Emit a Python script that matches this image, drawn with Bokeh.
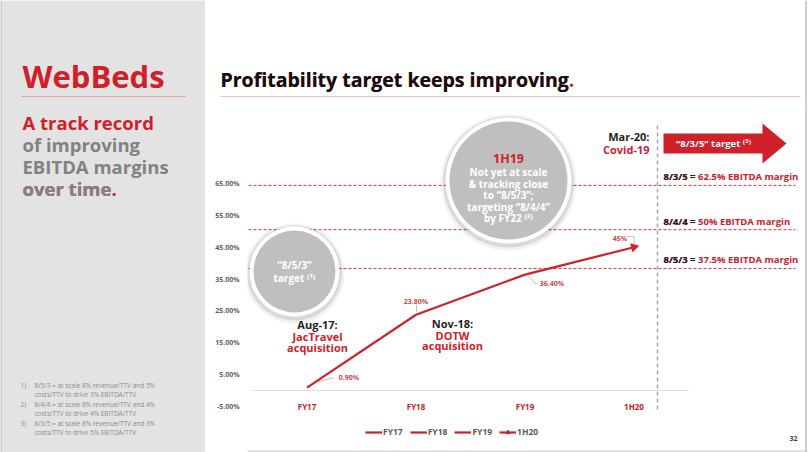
import math
from bokeh.plotting import figure
from bokeh.models import Range1d, FixedTicker, PrintfTickFormatter, Legend, LegendItem
from bokeh.layouts import row, column
from bokeh.embed import file_html
from bokeh.resources import INLINE
from bokeh.core.properties import value

# ---------------- data ----------------
categories = ["FY17", "FY18", "FY19", "1H20"]
ebitda_margin = [0.90, 23.80, 36.40, 45.0]
margin_labels = ["0.90%", "23.80%", "36.40%", "45%"]
y_ticks = [-5, 5, 15, 25, 35, 45, 55, 65]
target_levels = [64.4, 50.5, 38.3]
target_codes = ["8/3/5 =", "8/4/4 =", "8/5/3 ="]
target_texts = ["8/3/5 = 62.5% EBITDA margin", "8/4/4 = 50% EBITDA margin", "8/5/3 = 37.5% EBITDA margin"]
footnote_nums = ["1)", "2)", "3)"]
footnote_lines = [
    ["8/5/3 = at scale 8% revenue/TTV and 5%", "costs/TTV to drive 3% EBITDA/TTV"],
    ["8/4/4 = at scale 8% revenue/TTV and 4%", "costs/TTV to drive 4% EBITDA/TTV"],
    ["8/3/5 = at scale 8% revenue/TTV and 3%", "costs/TTV to drive 5% EBITDA/TTV"],
]

# ---------------- style ----------------
RED = "#d0202a"
LABEL_RED = "#d64545"
GREY_TXT = "#828282"
DARK = "#1e1e1e"
PANEL = "#e3e3e3"
FONT = value("Open Sans")

W_LEFT, W_RIGHT, H_TOTAL, H_TITLE = 205, 605, 452, 105
H_CHART = H_TOTAL - H_TITLE

# page pixel -> chart data helpers (for decorations only)
PPU = 223 / 70.0
def cy(py):
    return -5 + (406 - py) / PPU
def cx(px):
    return (px - 306.5) / 109.0


def base_fig(w, h, xr, yr, bg, **kw):
    f = figure(width=w, height=h, x_range=xr, y_range=yr, toolbar_location=None,
               output_backend="svg", min_border=0, background_fill_color=bg,
               border_fill_color=bg, outline_line_color=None, **kw)
    f.grid.visible = False
    f.frame_align = False
    return f


def txt(f, x, y, t, size, color, style="bold", align="left", baseline="middle", **kw):
    return f.text(x=x, y=y, text=t, text_font=FONT, text_font_size=size, text_font_style=style,
                  text_color=color, text_align=align, text_baseline=baseline, **kw)

# ---------------- left panel ----------------
left = base_fig(W_LEFT, H_TOTAL, Range1d(0, 205), Range1d(452, 0), PANEL,
                x_axis_location=None, y_axis_location=None)
left.segment(x0=[0.5], y0=[0], x1=[0.5], y1=[452], line_color="#b5b5b5", line_width=1)
txt(left, [22], [75], ["WebBeds"], "31px", RED)
left.segment(x0=[21], y0=[96], x1=[185], y1=[96], line_color="#e3a5a5", line_width=1)
txt(left, [22], [121.5], ["A track record"], "18.5px", RED)
txt(left, [22, 22], [143.5, 166], ["of improving", "EBITDA margins"], "18.5px", GREY_TXT)
txt(left, [22], [187.5], ["over time."], "18.5px", RED)
txt(left, [22], [187.5], ["over time"], "18.5px", GREY_TXT)
fy = [385, 404, 423]
txt(left, [20] * 3, fy, footnote_nums, "6.5px", "#8c8c8c", style="normal")
txt(left, [34] * 3, fy, [l[0] for l in footnote_lines], "6.5px", "#8c8c8c", style="normal")
txt(left, [34] * 3, [v + 9 for v in fy], [l[1] for l in footnote_lines], "6.5px", "#8c8c8c", style="normal")

# ---------------- title ----------------
ttl = base_fig(W_RIGHT, H_TITLE, Range1d(205, 810), Range1d(105, 0), "white",
               x_axis_location=None, y_axis_location=None)
txt(ttl, [220], [78.5], ["Profitability target keeps improving."], "19.5px", RED)
txt(ttl, [220], [78.5], ["Profitability target keeps improving"], "19.5px", "#111111")
ttl.segment(x0=[220], y0=[96], x1=[800], y1=[96], line_color="#ecc0c0", line_width=1)
ttl.segment(x0=[805.5], y0=[0], x1=[805.5], y1=[105], line_color="#9a9a9a", line_width=1)

# ---------------- chart ----------------
p = base_fig(W_RIGHT, H_CHART, Range1d(cx(247), cx(810)), Range1d(cy(452), cy(105)), "white",
             x_axis_location=None, y_axis_location="left")
p.min_border_left = 42
ax = p.yaxis[0]
ax.ticker = FixedTicker(ticks=y_ticks)
ax.formatter = PrintfTickFormatter(format="%.2f%%")
ax.axis_line_color = None
ax.major_tick_line_color = None
ax.minor_tick_line_color = None
ax.major_label_standoff = 2
ax.major_label_text_font = "Open Sans"
ax.major_label_text_font_size = "7px"
ax.major_label_text_font_style = "bold"
ax.major_label_text_color = "#626262"

xs = list(range(len(categories)))

# slide edge
p.segment(x0=[cx(805.5)], y0=[cy(0)], x1=[cx(805.5)], y1=[cy(452)], line_color="#9a9a9a", line_width=1)
p.segment(x0=[cx(205)], y0=[cy(450.5)], x1=[cx(806)], y1=[cy(450.5)], line_color="#c8c8c8", line_width=1)

# zero baseline
p.segment(x0=[xs[0] - 0.5], y0=[0], x1=[xs[-1] + 0.5], y1=[0], line_color="#dcdcdc", line_width=1)
# target dashed lines
p.segment(x0=[cx(248)] * 3, y0=target_levels, x1=[cx(795)] * 3, y1=target_levels,
          line_color=RED, line_dash="3 2", line_width=1, line_alpha=0.9)
# Covid vertical line
p.segment(x0=[cx(657)], y0=[cy(125)], x1=[cx(657)], y1=[cy(410)],
          line_color="#a9a9a9", line_dash="4 3", line_width=1.5)

# bubbles
for (bx, by, d) in [(294, 271, 90), (508, 180, 126)]:
    p.scatter(x=[cx(bx)], y=[cy(by + 2)], size=d + 10, marker="circle", fill_color="#000000",
              fill_alpha=0.05, line_color=None)
    p.scatter(x=[cx(bx)], y=[cy(by + 1.5)], size=d + 5, marker="circle", fill_color="#000000",
              fill_alpha=0.10, line_color=None)
    p.scatter(x=[cx(bx)], y=[cy(by)], size=d, marker="circle", fill_color="white", line_color=None)
    p.scatter(x=[cx(bx)], y=[cy(by)], size=d - 8, marker="circle", fill_color="#bfbfbf", line_color=None)

txt(p, [cx(294)], [cy(264)], ["\u201c8/5/3\u201d"], "10px", "white", align="center")
txt(p, [cx(294)], [cy(277)], ["target \u207d\u00b9\u207e"], "10px", "white", align="center")
txt(p, [cx(508)], [cy(158)], ["1H19"], "12.5px", RED, align="center")
txt(p, [cx(508)] * 5, [cy(v) for v in [171, 183, 194.5, 206, 217.5]],
    ["Not yet at scale", "& tracking close", "to \u201c8/5/3\u201d;", "targeting \u201c8/4/4\u201d",
     "by FY22 \u207d\u00b2\u207e"], "10px", "white", align="center")

# series lines
renderers = []
for k in range(len(xs) - 1):
    r = p.line(x=xs[k:k + 2], y=ebitda_margin[k:k + 2], line_color=RED, line_width=2.2)
    renderers.append(r)
slope = math.atan2((ebitda_margin[3] - ebitda_margin[2]) * PPU, 109.0)
head = p.scatter(x=[xs[3]], y=[ebitda_margin[3]], marker="triangle", size=8,
                 angle=slope - math.pi / 2, fill_color=RED, line_color=RED)

# data labels with leader lines
offs = [(42, -10), (0, -13), (27, 9), (-14, -9)]
txt(p, xs, ebitda_margin, margin_labels, "7px", LABEL_RED, align="center",
    x_offset=[o[0] for o in offs], y_offset=[o[1] for o in offs])
leaders = [[(11.5, -6), (26.5, -10)], [(0.5, -10), (0.5, -3)],
           [(3, 1), (10, 9), (13, 9)], [(-7, -10.6), (0, -10.6), (0, -3.6)]]
p.multi_line(xs=[[xs[i] + a / 109.0 for a, b in L] for i, L in enumerate(leaders)],
             ys=[[ebitda_margin[i] - b / PPU for a, b in L] for i, L in enumerate(leaders)],
             line_color="#b0b0b0", line_width=0.8)

# category labels
txt(p, xs, [-5] * 4, categories, "8px", "#c82027", align="center")

# event annotations
txt(p, [cx(317)], [cy(324)], ["Aug-17:"], "11px", DARK, align="center")
txt(p, [cx(317)] * 2, [cy(335.5), cy(346.5)], ["JacTravel", "acquisition"], "11px", RED, align="center")
txt(p, [cx(452)], [cy(323)], ["Nov-18:"], "11px", DARK, align="center")
txt(p, [cx(452)] * 2, [cy(334.5), cy(345)], ["DOTW", "acquisition"], "11px", RED, align="center")
txt(p, [cx(649)], [cy(136)], ["Mar-20:"], "11px", DARK, align="right")
txt(p, [cx(649)], [cy(149)], ["Covid-19"], "11px", RED, align="right")

# target arrow
arrow_px = [(663, 133), (762, 133), (762, 123), (786, 143), (762, 163), (762, 153), (663, 153)]
p.patch(x=[cx(a) for a, b in arrow_px], y=[cy(b) for a, b in arrow_px], fill_color=RED, line_color=None)
txt(p, [cx(713)], [cy(143)], ["\u201c8/3/5\u201d target \u207d\u00b3\u207e"], "9.5px", "white", align="center")

# target labels
ty = [176, 221, 259]
txt(p, [cx(663)] * 3, [cy(v) for v in ty], target_texts, "9.5px", RED)
txt(p, [cx(663)] * 3, [cy(v) for v in ty], target_codes, "9.5px", DARK)

# page number
txt(p, [cx(793)], [cy(438)], ["32"], "7px", "#404040", align="center")

# legend
items = [LegendItem(label=categories[0], renderers=[renderers[0]]),
         LegendItem(label=categories[1], renderers=[renderers[1]]),
         LegendItem(label=categories[2], renderers=[renderers[2]]),
         LegendItem(label=categories[3], renderers=[renderers[2], head])]
legend = Legend(items=items, orientation="horizontal", location=(118, 15),
                glyph_width=17, glyph_height=10, label_standoff=1, spacing=7,
                padding=0, margin=0, border_line_color=None, background_fill_alpha=0,
                label_text_font="Open Sans", label_text_font_size="8.5px",
                label_text_font_style="bold", label_text_color="#595959",
                label_height=10, label_width=18)
p.add_layout(legend)

layout = row(left, column(ttl, p))
open("out.html", "w").write(file_html(layout, INLINE))
